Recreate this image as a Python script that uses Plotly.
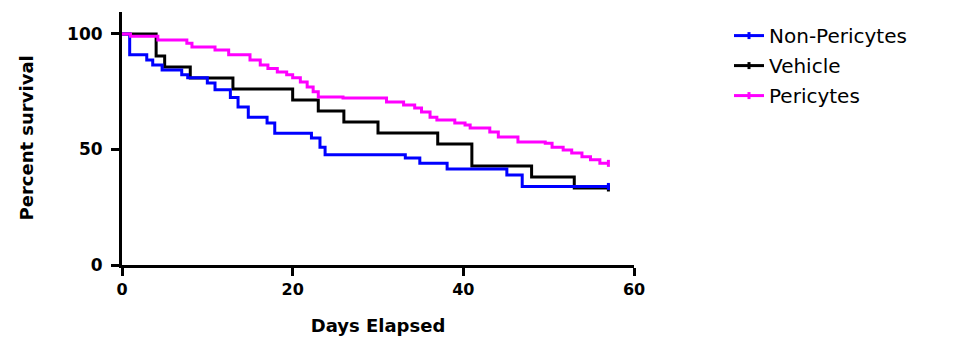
import plotly.graph_objects as go

# Kaplan-Meier step data (days, percent survival after each event)
non_peri_days = [0, 0.9, 2.9, 3.6, 4.7, 7, 7.7, 10, 10.9, 12.7, 13.6, 14.8, 17, 17.9,
                 22.2, 23.2, 23.8, 33.2, 34.9, 38.1, 45.1, 46.9, 57]
non_peri_surv = [100, 91, 88.7, 86.6, 84.4, 82.3, 81, 78.8, 75.8, 72.5, 68.4, 64, 61.5, 57,
                 55, 51, 47.7, 46.3, 44, 41.5, 39, 34, 34]

vehicle_days = [0, 4, 5, 8, 13, 20, 23, 26, 30, 37, 41, 48, 53, 57]
vehicle_surv = [100, 90.48, 85.71, 80.95, 76.19, 71.43, 66.67, 61.90, 57.14, 52.38,
                42.86, 38.10, 33.33, 33.33]

peri_days = [0, 1, 4.2, 7.6, 8.2, 10.9, 12.5, 15, 16.2, 17.1, 18.2, 19.3, 20, 20.9, 21.7,
             22.4, 23, 25.9, 31, 33, 34.3, 35.1, 36.1, 36.9, 39, 40.2, 40.8, 43.1, 44.1,
             46.4, 49.6, 50.4, 51.7, 52.7, 53.9, 54.9, 56, 57]
peri_surv = [100, 99, 97.4, 96, 94.4, 93, 91, 88.7, 86.6, 85, 83.5, 82.3, 81, 79.2, 77,
             75, 72.7, 72.3, 70.6, 69.3, 68, 66.2, 64, 62.8, 61.5, 60.6, 59.3, 57.6, 55.4,
             53.2, 52.7, 51, 49.8, 48.5, 46.8, 45.5, 44, 44]

series = [
    ("Non-Pericytes", non_peri_days, non_peri_surv, "#0000ff", 1),
    ("Vehicle", vehicle_days, vehicle_surv, "#000000", 2),
    ("Pericytes", peri_days, peri_surv, "#ff00ff", 3),
]

x_ticks = [0, 20, 40, 60]
y_ticks = [0, 50, 100]

fig = go.Figure()
draw_order = [1, 0, 2]
for i in draw_order:
    name, xs, ys, color, rank = series[i]
    fig.add_trace(go.Scatter(
        x=xs, y=ys, name=name, mode="lines+markers",
        line=dict(color=color, width=3, shape="hv"),
        marker=dict(symbol="line-ns", size=5, color=color,
                    line=dict(color=color, width=3)),
        selectedpoints=[len(xs) - 1],
        unselected=dict(marker=dict(opacity=0)),
        legendrank=rank, legendgroup=name,
    ))

fig.update_layout(
    width=957, height=337,
    margin=dict(l=114, r=331, t=4, b=80, autoexpand=False),
    plot_bgcolor="white", paper_bgcolor="white",
    font=dict(family="DejaVu Sans", color="black"),
    showlegend=True,
    legend=dict(xref="container", yref="container", x=0.7534, y=0.976,
                xanchor="left", yanchor="top",
                font=dict(family="DejaVu Sans", size=20, color="black"),
                tracegroupgap=1, bgcolor="rgba(0,0,0,0)"),
    xaxis=dict(range=[0, 60], tickvals=x_ticks, ticks="outside", ticklen=8,
               tickwidth=3, tickcolor="black", showline=True, linewidth=3,
               linecolor="black", showgrid=False, zeroline=False, automargin=False,
               tickfont=dict(family="DejaVu Sans", size=16, color="black", weight="bold"),
               title=dict(text="Days Elapsed", standoff=22,
                          font=dict(family="DejaVu Sans", size=18, color="black", weight="bold"))),
    yaxis=dict(range=[0, 109.5], tickvals=y_ticks, ticks="outside", ticklen=8,
               tickwidth=3, tickcolor="black", showline=True, linewidth=3,
               linecolor="black", showgrid=False, zeroline=False, automargin=False,
               ticklabelstandoff=5,
               tickfont=dict(family="DejaVu Sans", size=17, color="black", weight="bold")),
    annotations=[dict(text="<b>Percent survival</b>", xref="paper", yref="paper",
                      x=-96 / 512, y=0.5, xanchor="center", yanchor="middle",
                      textangle=-90, showarrow=False,
                      font=dict(family="DejaVu Sans", size=18, color="black"))],
)

fig.write_html("out.html")
